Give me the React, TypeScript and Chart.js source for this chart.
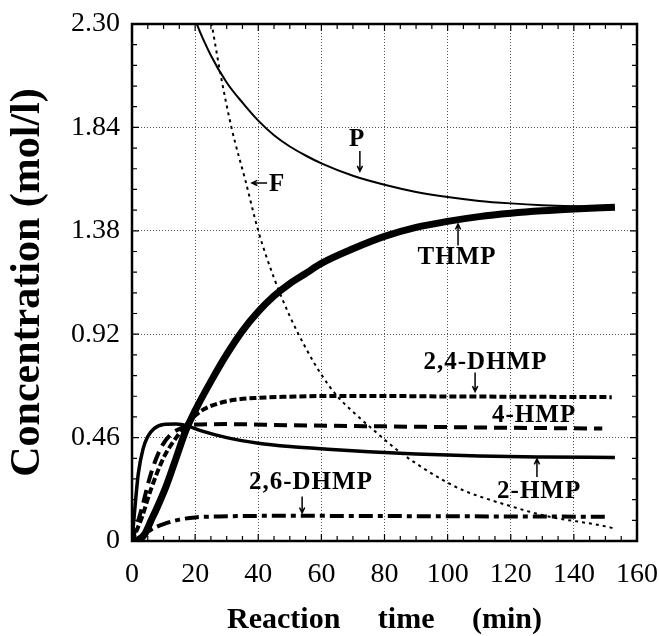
import React, { useEffect, useRef } from "react";
import { Chart, registerables } from "chart.js";

Chart.register(...registerables);

const SERIF = '"Liberation Serif", "Times New Roman", Times, serif';

// Axis ticks
const X_TICKS = [0, 20, 40, 60, 80, 100, 120, 140, 160];
const Y_TICKS = [0, 0.46, 0.92, 1.38, 1.84, 2.3];
const Y_TICK_LABELS = ["0", "0.46", "0.92", "1.38", "1.84", "2.30"];

// P (thin solid)
const P_T = [16, 20, 25, 30, 35, 40, 45, 50, 55, 60, 70, 80, 90, 100, 110, 120, 130, 140, 153];
const P_C = [2.5, 2.32, 2.16, 2.04, 1.95, 1.87, 1.805, 1.755, 1.715, 1.68, 1.625, 1.585, 1.553, 1.53, 1.513, 1.502, 1.494, 1.489, 1.485];

// F (dotted)
const F_T = [22, 25, 28, 31.5, 36, 40, 45, 50, 55, 60, 65, 70, 76, 84, 90, 98, 105, 113, 120, 126, 135, 142, 150, 153];
const F_C = [2.55, 2.32, 2.08, 1.84, 1.6, 1.38, 1.17, 1.0, 0.86, 0.74, 0.645, 0.575, 0.5, 0.405, 0.345, 0.275, 0.225, 0.185, 0.155, 0.13, 0.1, 0.085, 0.065, 0.055];

// THMP (thick solid)
const THMP_T = [0, 2, 4, 6, 8, 11, 14, 17, 20, 25, 30, 35, 40, 45, 50, 55, 60, 70, 80, 90, 100, 110, 120, 130, 140, 153];
const THMP_C = [0, 0.005, 0.03, 0.09, 0.15, 0.25, 0.37, 0.49, 0.58, 0.71, 0.83, 0.935, 1.02, 1.09, 1.145, 1.19, 1.235, 1.3, 1.355, 1.395, 1.422, 1.443, 1.458, 1.469, 1.477, 1.485];

// 2-HMP (medium solid)
const HMP2_T = [0, 1, 2, 3.5, 5, 7, 10, 14, 18, 22, 30, 40, 50, 62, 75, 90, 110, 130, 153];
const HMP2_C = [0, 0.16, 0.3, 0.41, 0.465, 0.5, 0.518, 0.52, 0.51, 0.49, 0.46, 0.435, 0.42, 0.408, 0.397, 0.387, 0.378, 0.374, 0.372];

// 4-HMP (long dashes)
const HMP4_T = [0, 3, 6, 9, 12, 16, 20, 30, 50, 80, 110, 149];
const HMP4_C = [0, 0.14, 0.3, 0.41, 0.47, 0.505, 0.518, 0.52, 0.515, 0.51, 0.505, 0.5];

// 2,4-DHMP (short dashes)
const DHMP24_T = [0, 3, 6, 10, 14, 18, 22, 27, 32, 40, 50, 60, 80, 100, 120, 152];
const DHMP24_C = [0, 0.1, 0.23, 0.37, 0.46, 0.53, 0.58, 0.61, 0.627, 0.637, 0.642, 0.645, 0.645, 0.643, 0.642, 0.64];

// 2,6-DHMP (dash-dot)
const DHMP26_T = [0, 3, 6, 10, 15, 20, 30, 50, 100, 151];
const DHMP26_C = [0, 0.02, 0.05, 0.075, 0.095, 0.105, 0.11, 0.112, 0.11, 0.108];

// Curve labels (data coordinates) and their arrows
const LABEL_TEXT = ["P", "F", "THMP", "2,4-DHMP", "4-HMP", "2-HMP", "2,6-DHMP"];
const LABEL_X = [71.3, 46.0, 103, 112, 127.4, 129, 56.7];
const LABEL_Y = [1.784, 1.584, 1.263, 0.796, 0.56, 0.218, 0.258];
// arrows: [x1, y1, x2, y2] (head at x2,y2) or null
const LABEL_ARROWS: (number[] | null)[] = [
  [72.2, 1.735, 72.2, 1.645],
  [42.8, 1.593, 38.0, 1.593],
  [103.3, 1.315, 103.3, 1.41],
  [108.7, 0.75, 108.7, 0.665],
  null,
  [128.3, 0.285, 128.3, 0.365],
  [53.9, 0.198, 53.9, 0.125],
];

const pts = (t: number[], c: number[]) => t.map((v, i) => ({ x: v, y: c[i] }));

const frameAndLabels = {
  id: "frameAndLabels",
  afterDatasetsDraw(chart: any) {
    const { ctx, chartArea, scales } = chart;
    const xs = scales.x;
    const ys = scales.y;
    const { left, right, top, bottom } = chartArea;
    ctx.save();
    ctx.strokeStyle = "#000";
    ctx.fillStyle = "#000";
    // minor ticks on all four sides, inward
    ctx.lineWidth = 1.2;
    ctx.beginPath();
    for (let v = 0; v <= 160 + 1e-9; v += 5) {
      const px = xs.getPixelForValue(v);
      const len = v % 20 === 0 ? 7 : 5;
      ctx.moveTo(px, bottom);
      ctx.lineTo(px, bottom - len);
      ctx.moveTo(px, top);
      ctx.lineTo(px, top + len);
    }
    for (let k = 0; k <= 25; k++) {
      const v = k * 0.092;
      const py = ys.getPixelForValue(v);
      const len = k % 5 === 0 ? 7 : 5;
      ctx.moveTo(left, py);
      ctx.lineTo(left + len, py);
      ctx.moveTo(right, py);
      ctx.lineTo(right - len, py);
    }
    ctx.stroke();
    // frame
    ctx.lineWidth = 2.5;
    ctx.strokeRect(left, top, right - left, bottom - top);

    // labels
    ctx.font = `bold 25px ${SERIF}`;
    ctx.textAlign = "center";
    ctx.textBaseline = "middle";
    try {
      (ctx as any).letterSpacing = "1px";
    } catch (e) {}
    LABEL_TEXT.forEach((txt, i) => {
      ctx.fillText(txt, xs.getPixelForValue(LABEL_X[i]), ys.getPixelForValue(LABEL_Y[i]));
      const a = LABEL_ARROWS[i];
      if (a) {
        const x1 = xs.getPixelForValue(a[0]);
        const y1 = ys.getPixelForValue(a[1]);
        const x2 = xs.getPixelForValue(a[2]);
        const y2 = ys.getPixelForValue(a[3]);
        const ang = Math.atan2(y2 - y1, x2 - x1);
        const h = 6;
        ctx.lineWidth = 1.5;
        ctx.beginPath();
        ctx.moveTo(x1, y1);
        ctx.lineTo(x2, y2);
        ctx.moveTo(x2 - h * Math.cos(ang - 0.45), y2 - h * Math.sin(ang - 0.45));
        ctx.lineTo(x2, y2);
        ctx.lineTo(x2 - h * Math.cos(ang + 0.45), y2 - h * Math.sin(ang + 0.45));
        ctx.stroke();
      }
    });
    ctx.restore();
  },
};

export default function App() {
  const ref = useRef<HTMLCanvasElement | null>(null);
  useEffect(() => {
    if (!ref.current) return;
    const line = (data: any, width: number, dash: number[], extra: any = {}) => ({
      data,
      borderColor: "#000",
      backgroundColor: "#000",
      borderWidth: width,
      borderDash: dash,
      pointRadius: 0,
      fill: false,
      cubicInterpolationMode: "monotone",
      borderCapStyle: "butt",
      ...extra,
    });
    const chart = new Chart(ref.current, {
      type: "line",
      data: {
        datasets: [
          line(pts(P_T, P_C), 2, [], { clip: 0, label: "P" }),
          line(pts(F_T, F_C), 2, [3, 4], { clip: 0, label: "F" }),
          line(pts(DHMP26_T, DHMP26_C), 4, [14, 5, 5, 5], { label: "2,6-DHMP" }),
          line(pts(DHMP24_T, DHMP24_C), 4, [7, 3], { label: "2,4-DHMP" }),
          line(pts(HMP4_T, HMP4_C), 4, [13, 7], { label: "4-HMP" }),
          line(pts(HMP2_T, HMP2_C), 3.5, [], { label: "2-HMP" }),
          line(pts(THMP_T, THMP_C), 7, [], { label: "THMP" }),
        ],
      },
      options: {
        animation: false,
        responsive: false,
        devicePixelRatio: 1,
        layout: { padding: { top: 24, right: 22, left: 0, bottom: 0 } },
        plugins: { legend: { display: false }, tooltip: { enabled: false } },
        scales: {
          x: {
            type: "linear",
            min: 0,
            max: 160,
            afterBuildTicks: (s: any) => {
              s.ticks = X_TICKS.map((v) => ({ value: v }));
            },
            afterFit: (s: any) => {
              s.height = 95;
              s.paddingLeft = 0;
              s.paddingRight = 0;
            },
            grid: { color: "#555", lineWidth: 1, drawTicks: false },
            border: { display: false, dash: [1, 2] },
            ticks: {
              color: "#000",
              font: { family: SERIF, size: 28 },
              padding: 17,
              maxRotation: 0,
              autoSkip: false,
            },
            title: {
              display: true,
              text: "Reaction     time     (min)",
              color: "#000",
              font: { family: SERIF, size: 30, weight: "bold", lineHeight: 1 },
              padding: { top: 0, bottom: 1 },
            },
          },
          y: {
            type: "linear",
            min: 0,
            max: 2.3,
            afterBuildTicks: (s: any) => {
              s.ticks = Y_TICKS.map((v) => ({ value: v }));
            },
            afterFit: (s: any) => {
              s.width = 132;
              s.paddingTop = 0;
              s.paddingBottom = 0;
            },
            grid: { color: "#555", lineWidth: 1, drawTicks: false },
            border: { display: false, dash: [1, 2] },
            ticks: {
              color: "#000",
              font: { family: SERIF, size: 28 },
              padding: 12,
              autoSkip: false,
              callback: (v: any) => {
                const i = Y_TICKS.findIndex((t) => Math.abs(t - Number(v)) < 1e-6);
                return i >= 0 ? Y_TICK_LABELS[i] : "";
              },
            },
            title: {
              display: true,
              text: "Concentration (mol/l)",
              color: "#000",
              font: { family: SERIF, size: 42, weight: "bold", lineHeight: 1.2 },
              padding: { top: 3, bottom: 0 },
            },
          },
        },
      },
      plugins: [frameAndLabels],
    } as any);
    return () => chart.destroy();
  }, []);
  return (
    <div style={{ position: "fixed", left: 0, top: 0, width: 659, height: 636, background: "#fff" }}>
      <canvas ref={ref} width={659} height={636} style={{ display: "block" }} />
    </div>
  );
}
